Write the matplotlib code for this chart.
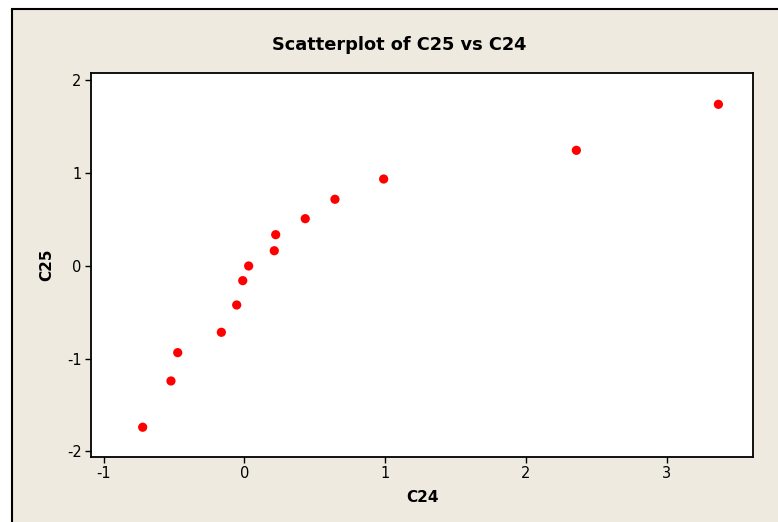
import matplotlib
matplotlib.use("Agg")
import matplotlib.pyplot as plt
from matplotlib.patches import Rectangle

# Data
c24 = [-0.722, -0.521, -0.473, -0.163, -0.054, -0.011, 0.031, 0.213, 0.223,
       0.433, 0.644, 0.990, 2.359, 3.368]
c25 = [-1.739, -1.241, -0.936, -0.717, -0.423, -0.161, -0.003, 0.161, 0.334,
       0.506, 0.715, 0.933, 1.242, 1.737]
x_ticks = [-1, 0, 1, 2, 3]
y_ticks = [-2, -1, 0, 1, 2]
title = "Scatterplot of C25 vs C24"
xlabel = "C24"
ylabel = "C25"

W, H = 778, 522
fig = plt.figure(figsize=(W / 100, H / 100), dpi=100)
fig.patch.set_facecolor("white")
bg = "#EEEAE0"
fig.patches.append(Rectangle((12 / W, -0.1), 1.2, 1.1 - 9 / H, transform=fig.transFigure,
                             facecolor=bg, edgecolor="black", linewidth=1.5, zorder=-5))

left, right, top, bottom = 91.3, 753.3, 73.3, 456.5
ax = fig.add_axes([left / W, 1 - bottom / H, (right - left) / W, (bottom - top) / H])
ax.set_zorder(2)
ax.set_facecolor("white")
ax.scatter(c24, c25, s=44, color="#FF0000", edgecolors="none", zorder=3)

ax.set_xlim(-1.087, 3.616)
ax.set_ylim(-2.054, 2.071)
ax.set_xticks(x_ticks)
ax.set_yticks(y_ticks)
ax.set_xticklabels([str(t) for t in x_ticks])
ax.set_yticklabels([str(t) for t in y_ticks])
ax.tick_params(direction="out", length=4, width=1, labelsize=10.5, pad=3, colors="black")
for sp in ax.spines.values():
    sp.set_linewidth(1.3)
    sp.set_color("black")

ax.set_xlabel(xlabel, fontsize=11, fontweight="bold", labelpad=6)
ax.set_ylabel(ylabel, fontsize=11, fontweight="bold", labelpad=9)
fig.text(399 / W, 1 - 45 / H, title, ha="center", va="center",
         fontsize=12.8, fontweight="bold", zorder=3)

fig.savefig("out.png", dpi=100, facecolor=fig.get_facecolor())
